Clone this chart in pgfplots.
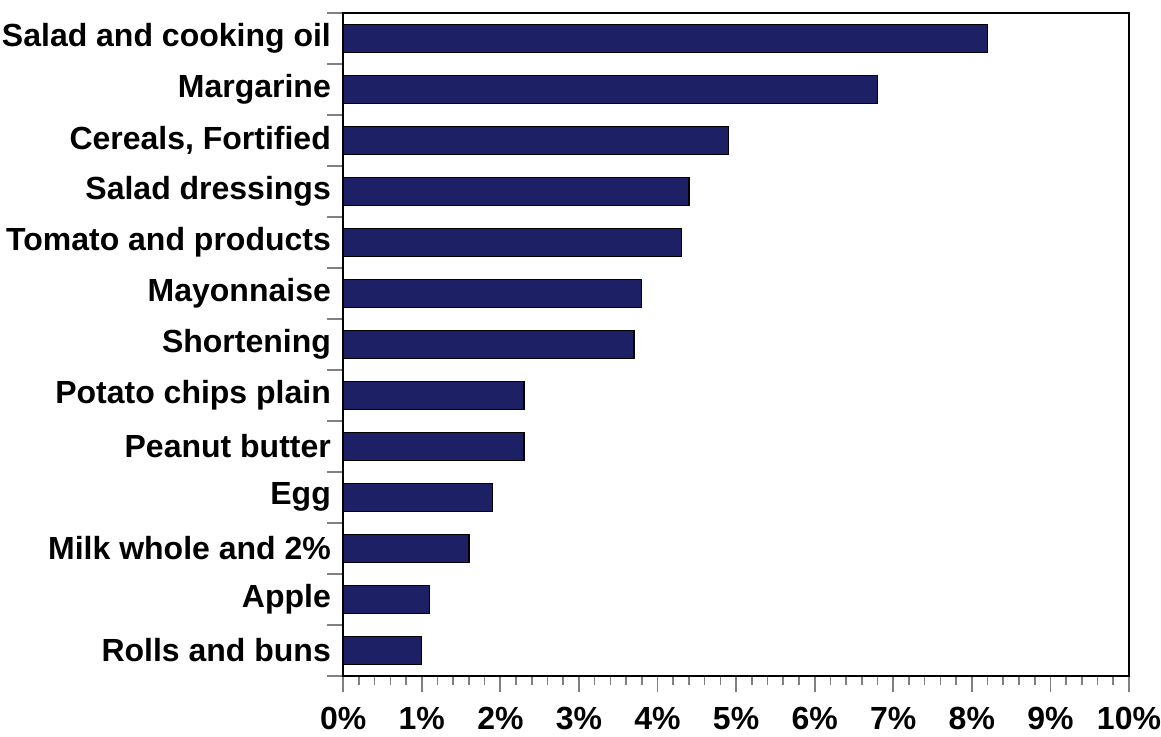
\documentclass[border=0pt]{standalone}
\usepackage{pgfplots}
\pgfplotsset{compat=1.18}
\usepackage{fontspec}
\setmainfont{Liberation Sans}
\definecolor{barnavy}{RGB}{30,32,102}
\begin{document}
\begin{tikzpicture}
\begin{axis}[
  scale only axis,
  width=393pt, height=331.5pt,
  xbar, bar width=14pt,
  xmin=0, xmax=10, ymin=-0.5, ymax=12.5,
  xtick={0,1,...,10},
  minor x tick num=4,
  xticklabel={\pgfmathprintnumber{\tick}\%},
  /pgf/number format/assume math mode=true,
  ytick={-0.5,0.5,...,12.5},
  yticklabels={{},Rolls and buns,Apple,Milk whole and 2\%,Egg,Peanut butter,Potato chips plain,Shortening,Mayonnaise,Tomato and products,Salad dressings,{Cereals, Fortified},Margarine,Salad and cooking oil},
  tick align=outside,
  xtick pos=bottom, ytick pos=left,
  major tick length=8pt,
  minor tick length=4.5pt,
  every minor tick/.append style={line width=0.8pt},
  every major tick/.append style={line width=0.9pt},
  yticklabel style={font=\fontsize{16}{18}\selectfont\bfseries, inner xsep=1pt, xshift=3pt, yshift=-12.75pt},
  xticklabel style={font=\fontsize{16}{20}\selectfont\bfseries, inner xsep=0pt, yshift=-4pt},
  axis line style={line width=1pt},
  clip=false,
]
\addplot[fill=barnavy, draw=black, line width=0.6pt] coordinates {
(1.0,0) (1.1,1) (1.6,2) (1.9,3) (2.3,4) (2.3,5) (3.7,6) (3.8,7) (4.3,8) (4.4,9) (4.9,10) (6.8,11) (8.2,12)
};
\coordinate (ne) at (rel axis cs:1,1);
\end{axis}
\path ([shift={(16pt,6.5pt)}]ne) circle (0pt);
\end{tikzpicture}
\end{document}
